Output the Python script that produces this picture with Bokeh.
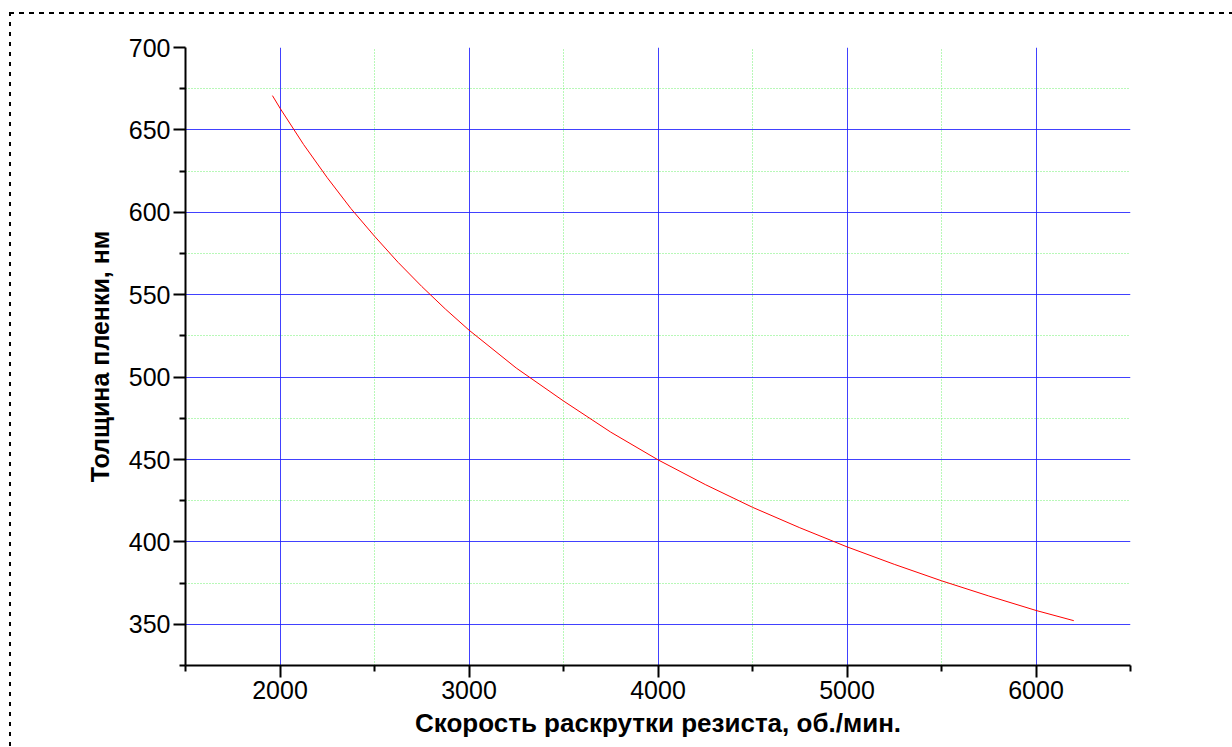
from bokeh.plotting import figure
from bokeh.models import FixedTicker, Range1d
from bokeh.embed import file_html
from bokeh.resources import INLINE

# Data
speed = [1960, 2000, 2125, 2250, 2375, 2500, 2625, 2750, 2875, 3000, 3250,
         3500, 3750, 4000, 4250, 4500, 4750, 5000, 5250, 5500, 5750, 6000, 6200]
thickness = [670.8, 663.2, 641.1, 621.0, 602.3, 585.5, 569.6, 555.0, 541.3,
             528.5, 505.5, 485.5, 466.6, 449.8, 434.8, 421.0, 408.6, 397.0,
             386.4, 376.4, 367.2, 358.4, 352.2]

x_major = [2000, 3000, 4000, 5000, 6000]
x_minor = [1500, 2500, 3500, 4500, 5500, 6500]
y_major = [350, 400, 450, 500, 550, 600, 650, 700]
y_minor = [325, 375, 425, 475, 525, 575, 625, 675]

x_label = "Скорость раскрутки резиста, об./мин."
y_label = "Толщина пленки, нм"

p = figure(width=1232, height=747, output_backend="svg", toolbar_location=None,
           x_range=Range1d(1500, 6500), y_range=Range1d(325, 700),
           min_border_left=185, min_border_right=102, min_border_top=47,
           min_border_bottom=82, background_fill_color="white",
           border_fill_color="white", outline_line_color=None)

p.line(speed, thickness, line_color="#ff0000", line_width=1)

for ax, major, minor in ((p.xaxis[0], x_major, x_minor), (p.yaxis[0], y_major, y_minor)):
    ax.ticker = FixedTicker(ticks=major, minor_ticks=minor)
    ax.axis_line_width = 2
    ax.axis_line_color = "black"
    ax.major_tick_line_width = 2
    ax.minor_tick_line_width = 2
    ax.major_tick_out = 12
    ax.major_tick_in = 0
    ax.minor_tick_out = 6
    ax.minor_tick_in = 0
    ax.major_label_text_font = "Liberation Sans"
    ax.major_label_text_font_size = "25px"
    ax.major_label_text_color = "black"
    ax.axis_label_text_font = "Liberation Sans"
    ax.axis_label_text_font_style = "bold"
    ax.axis_label_text_color = "black"

p.xaxis[0].axis_label = x_label
p.yaxis[0].axis_label = y_label
p.xaxis[0].axis_label_text_font_size = "26px"
p.yaxis[0].axis_label_text_font_size = "25px"
p.xaxis[0].major_label_standoff = 3
p.yaxis[0].major_label_standoff = 3
p.xaxis[0].axis_label_standoff = 6
p.yaxis[0].axis_label_standoff = 12

p.xgrid[0].ticker = FixedTicker(ticks=x_major, minor_ticks=x_minor[1:-1])
p.ygrid[0].ticker = FixedTicker(ticks=y_major, minor_ticks=y_minor)
for g in (p.xgrid[0], p.ygrid[0]):
    g.grid_line_color = "#2020ff"
    g.grid_line_width = 1
    g.grid_line_alpha = 0.85
    g.minor_grid_line_color = "#70f070"
    g.minor_grid_line_width = 1
    g.minor_grid_line_dash = "1 2"

# dashed page frame (top and left edges visible in the reference)
p.stylesheets = ["""
:host { position: relative; }
:host::before {
  content: ""; position: absolute; left: 9px; top: 12px; width: 1223px; height: 2px;
  background: repeating-linear-gradient(to right, #000 0px, #000 5px, transparent 5px, transparent 10px);
  z-index: 1000; pointer-events: none;
}
:host::after {
  content: ""; position: absolute; left: 9px; top: 12px; width: 2px; height: 735px;
  background: repeating-linear-gradient(to bottom, #000 0px, #000 4px, transparent 4px, transparent 10px);
  z-index: 1000; pointer-events: none;
}
"""]

open("out.html", "w").write(file_html(p, INLINE))
